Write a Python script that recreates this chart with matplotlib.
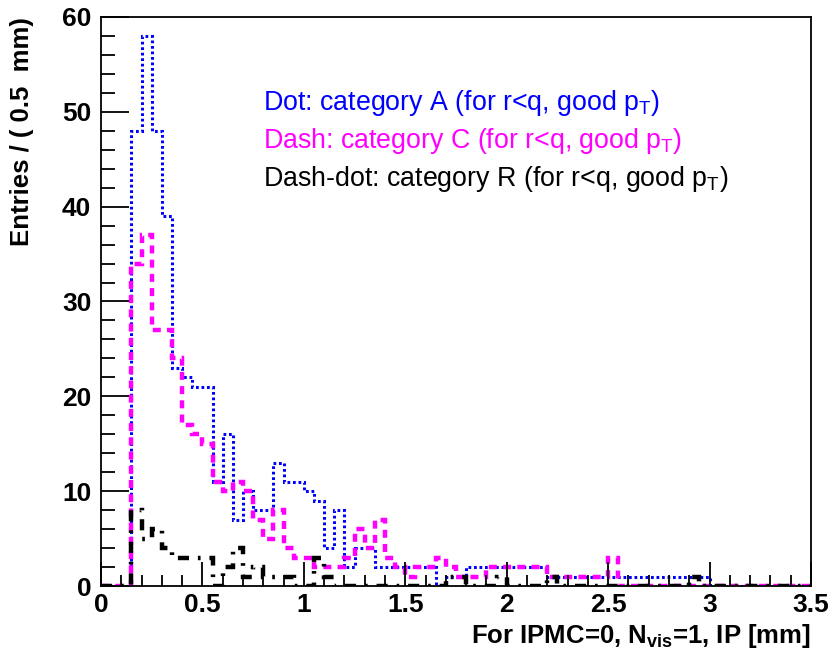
import numpy as np
import matplotlib
matplotlib.use("Agg")
import matplotlib.pyplot as plt
from matplotlib.ticker import MultipleLocator, FuncFormatter

plt.rcParams['font.family'] = ['Liberation Sans', 'DejaVu Sans']
plt.rcParams['mathtext.fontset'] = 'custom'
plt.rcParams['mathtext.rm'] = 'Liberation Sans'
plt.rcParams['mathtext.it'] = 'Liberation Sans'
plt.rcParams['mathtext.bf'] = 'Liberation Sans:bold'

# --- histogram data: 70 bins of 0.05 mm from 0 to 3.5 ---
edges = np.linspace(0.0, 3.5, 71)

cat_a = [0, 0, 0, 48, 58, 48, 39, 23, 22, 21,
         21, 11, 16, 7, 10, 8, 8, 13, 11, 11,
         10, 9, 4, 8, 2, 4, 4, 2, 2, 2,
         2, 2, 2, 0, 1, 1, 2, 2, 2, 2,
         2, 2, 2, 2, 1, 1, 1, 1, 1, 1,
         1, 1, 1, 1, 1, 1, 1, 1, 1, 1,
         0, 0, 0, 0, 0, 0, 0, 0, 0, 0]

cat_c = [0, 0, 0, 34, 37, 27, 27, 24, 17, 16,
         15, 11, 10, 11, 10, 7, 5, 8, 4, 3,
         3, 2, 2, 2, 3, 6, 4, 7, 3, 2,
         1, 2, 2, 3, 2, 1, 1, 1, 2, 2,
         2, 2, 2, 2, 1, 1, 1, 1, 1, 1,
         3, 0, 0, 0, 0, 0, 0, 0, 0, 0,
         0, 0, 0, 0, 0, 0, 0, 0, 0, 0]

cat_r = [0, 0, 0, 8, 5, 6, 4, 3, 3, 3,
         3, 0, 2, 4, 1, 2, 1, 1, 1, 0,
         0, 3, 1, 0, 0, 0, 0, 0, 0, 0,
         0, 0, 0, 0, 1, 1, 0, 0, 0, 1,
         0, 0, 0, 0, 1, 0, 0, 0, 0, 0,
         0, 0, 0, 0, 0, 0, 0, 0, 1, 0,
         0, 0, 0, 0, 0, 0, 0, 0, 0, 0]

legend_lines = [
    ("Dot: category A (for r<q, good $p_{T}$)", "#0000ff"),
    ("Dash: category C (for r<q, good $p_{T}$)", "#ff00ff"),
    ("Dash-dot: category R (for r<q, good $p_{T}$)", "#000000"),
]

fig = plt.figure(figsize=(8.32, 6.53), dpi=100)
ax = fig.add_axes([0.1214, 0.1026, 0.8534, 0.8714])

ax.stairs(cat_a, edges, color='#0000ff', lw=2.2, linestyle=(0, (0.9, 0.9)))
ax.stairs(cat_c, edges, color='#ff00ff', lw=3.2, linestyle=(0, (1.8, 1.4)))
ax.stairs(cat_r, edges, color='#000000', lw=3.2, linestyle=(0, (2.5, 2, 0.6, 2)))

ax.set_xlim(0, 3.5)
ax.set_ylim(0, 60)

ax.xaxis.set_major_locator(MultipleLocator(0.5))
ax.xaxis.set_minor_locator(MultipleLocator(0.1))
ax.yaxis.set_major_locator(MultipleLocator(10))
ax.yaxis.set_minor_locator(MultipleLocator(2))
ax.tick_params(which='both', direction='in', top=False, right=False, width=1.3)
ax.tick_params(which='major', axis='y', length=20, pad=7)
ax.tick_params(which='minor', axis='y', length=10)
ax.tick_params(which='major', axis='x', length=17, pad=5)
ax.tick_params(which='minor', axis='x', length=8)
ax.xaxis.set_major_formatter(FuncFormatter(lambda v, p: f"{v:g}"))
for lab in ax.get_xticklabels() + ax.get_yticklabels():
    lab.set_fontsize(19)
    lab.set_fontweight('bold')
for sp in ax.spines.values():
    sp.set_linewidth(1.3)

fig.text(811/832, 1 - 643/653, "For IPMC=0, N$_{\\mathbf{vis}}$=1, IP [mm]",
         ha='right', va='baseline', fontsize=18.5, fontweight='bold')
fig.text(22/832, 1 - 17/653, "Entries / ( 0.5  mm)", rotation=90,
         ha='center', va='top', fontsize=18.5, fontweight='bold')

for i, (txt, col) in enumerate(legend_lines):
    ax.text(263/832, 1 - (103 + 38 * i)/653, txt, transform=fig.transFigure,
            color=col, fontsize=19.3, ha='left', va='center')

fig.savefig("out.png", dpi=100)
